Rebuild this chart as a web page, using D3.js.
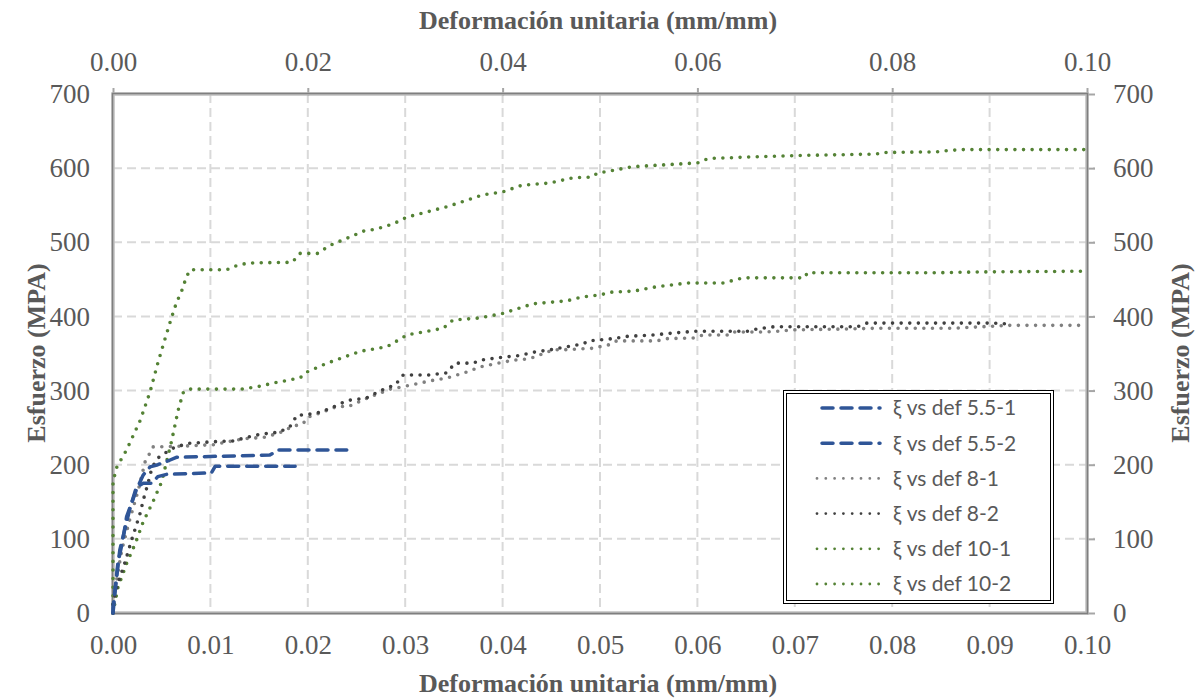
<!DOCTYPE html>
<html>
<head>
<meta charset="utf-8">
<script src="https://cdn.jsdelivr.net/npm/d3@7"></script>
<style>
  body { margin: 0; background: #fff; }
  svg { display: block; }
</style>
</head>
<body>
<svg id="chart" width="1197" height="700"></svg>
<script>
// Esfuerzo vs deformacion - ensayos de traccion

// strain (mm/mm), stress (MPa)
const def55_1 = [[0,0],[0,8],[0.0002,31],[0.0005,67],[0.001,98],[0.0014,130],[0.0019,148],[0.0024,166],[0.0031,186],[0.0038,197],[0.0046,200],[0.0058,206],[0.0065,210],[0.0161,213],[0.017,220],[0.024,220]];
const def55_2 = [[0,0],[0.0003,40],[0.0007,85],[0.0012,112],[0.0017,139],[0.0024,170],[0.0031,175],[0.004,175],[0.0046,184],[0.0055,187],[0.0101,189],[0.0105,198],[0.0187,198]];
const def8_1 = [[0,0],[0.0002,31],[0.0009,85],[0.0017,125],[0.0026,166],[0.0033,204],[0.0038,216],[0.0041,224],[0.0071,225],[0.0103,227],[0.0134,235],[0.0156,237],[0.0173,244],[0.0185,252],[0.0195,255],[0.02,264],[0.0209,268],[0.0231,279],[0.0241,278],[0.0265,292],[0.0285,302],[0.0308,308],[0.0325,313],[0.0343,317],[0.0361,324],[0.0377,332],[0.0411,341],[0.0428,343],[0.0452,355],[0.0462,355],[0.0492,357],[0.051,362],[0.0517,367],[0.0558,367],[0.0569,370],[0.0596,371],[0.0606,375],[0.0633,375],[0.0637,379],[0.0671,379],[0.0702,382],[0.0754,383],[0.0782,384],[0.0862,384],[0.0921,388],[0.1,388]];
const def8_2 = [[0,0],[0,13],[0.0005,40],[0.0012,67],[0.0019,98],[0.0028,135],[0.0031,152],[0.0036,175],[0.004,196],[0.0046,209],[0.0055,217],[0.0064,224],[0.0079,229],[0.0103,231],[0.0123,232],[0.0138,237],[0.0151,241],[0.0171,244],[0.0182,252],[0.0189,267],[0.0197,267],[0.0213,271],[0.0223,276],[0.0238,285],[0.0243,287],[0.026,290],[0.0275,300],[0.029,308],[0.0298,321],[0.0325,321],[0.0343,324],[0.0351,337],[0.037,337],[0.0377,341],[0.04,345],[0.0416,347],[0.0433,352],[0.0449,355],[0.0466,359],[0.0483,363],[0.0488,367],[0.0513,370],[0.0527,373],[0.0554,375],[0.0579,378],[0.0598,380],[0.0651,380],[0.0661,383],[0.0678,386],[0.0764,386],[0.0774,391],[0.0904,391],[0.0918,390]];
const def10_1 = [[0,0],[0,177],[0.0004,197],[0.0014,220],[0.0028,260],[0.0038,298],[0.0046,337],[0.0053,368],[0.006,398],[0.0065,418],[0.0071,436],[0.0075,452],[0.0079,463],[0.0117,463],[0.0123,467],[0.0138,472],[0.0184,473],[0.0192,485],[0.021,485],[0.0223,496],[0.0243,507],[0.0257,515],[0.0271,518],[0.0288,525],[0.0302,534],[0.0343,548],[0.038,564],[0.04,568],[0.042,577],[0.0449,580],[0.0472,587],[0.0492,588],[0.0497,593],[0.0534,602],[0.06,607],[0.0611,613],[0.0654,615],[0.0702,617],[0.0784,619],[0.079,621],[0.0846,622],[0.0852,623],[0.087,625],[0.1,625]];
const def10_2 = [[0,0],[0.0005,34],[0.0014,67],[0.0023,94],[0.0031,123],[0.0041,150],[0.005,177],[0.006,231],[0.0067,274],[0.0072,297],[0.0077,302],[0.0132,302],[0.0148,305],[0.0164,310],[0.0192,317],[0.0199,325],[0.022,337],[0.0254,353],[0.0281,359],[0.0302,375],[0.0339,384],[0.0349,395],[0.0377,398],[0.04,404],[0.0431,417],[0.0466,421],[0.0481,426],[0.05,429],[0.0513,433],[0.0534,434],[0.0558,440],[0.0589,445],[0.0626,445],[0.0647,452],[0.071,452],[0.0713,459],[0.0849,459],[0.089,460],[0.1,461]];

const seriesNames = ["ξ vs def 5.5-1", "ξ vs def 5.5-2", "ξ vs def 8-1", "ξ vs def 8-2", "ξ vs def 10-1", "ξ vs def 10-2"];
const seriesData = [def55_1, def55_2, def8_1, def8_2, def10_1, def10_2];

const xTicksBottom = [0, 0.01, 0.02, 0.03, 0.04, 0.05, 0.06, 0.07, 0.08, 0.09, 0.1];
const xTicksTop = [0, 0.02, 0.04, 0.06, 0.08, 0.1];
const yTicks = [0, 100, 200, 300, 400, 500, 600, 700];

const xTitle = "Deformación unitaria (mm/mm)";
const yTitle = "Esfuerzo (MPA)";

// line styles by series
const styles = [
    { color: "#2f5597", width: 3.5, dash: "11,8" },
    { color: "#2f5597", width: 3.5, dash: "11,8" },
    { color: "#808080", width: 3.6, dash: "0,8.6" },
    { color: "#404040", width: 3.6, dash: "0,8.6" },
    { color: "#548235", width: 3.6, dash: "0,8.6" },
    { color: "#548235", width: 3.6, dash: "0,8.6" }
];

const margin = { left: 113, right: 1087, top: 94, bottom: 613 };
const serif = "'Liberation Serif', 'Times New Roman', serif";
const textGrey = "#595959";
const tickFont = 27;
const titleFont = 26;

let svg = d3.select("#chart");

let x = d3.scaleLinear().domain([0, 0.1]).range([margin.left, margin.right]);
let y = d3.scaleLinear().domain([0, 700]).range([margin.bottom, margin.top]);

// grid
let grid = svg.append("g");
grid.selectAll("line.gx")
    .data(xTicksBottom.slice(1, -1))
    .enter().append("line")
    .attr("x1", d => x(d)).attr("x2", d => x(d))
    .attr("y1", margin.top).attr("y2", margin.bottom)
    .attr("stroke", "#d9d9d9").attr("stroke-width", 2)
    .attr("stroke-dasharray", "9,5");
grid.selectAll("line.gy")
    .data(yTicks.slice(1, -1))
    .enter().append("line")
    .attr("x1", margin.left).attr("x2", margin.right + 8)
    .attr("y1", d => y(d)).attr("y2", d => y(d))
    .attr("stroke", "#d9d9d9").attr("stroke-width", 2)
    .attr("stroke-dasharray", "9,5");

// axes
let fmt = d3.format(".2f");

let bottomAxis = svg.append("g")
    .attr("transform", "translate(0," + margin.bottom + ")")
    .call(d3.axisBottom(x).tickValues(xTicksBottom).tickFormat(fmt).tickSize(0).tickPadding(22));

let topAxis = svg.append("g")
    .attr("transform", "translate(0," + margin.top + ")")
    .call(d3.axisTop(x).tickValues(xTicksTop).tickFormat(fmt).tickSize(8).tickPadding(15));

let leftAxis = svg.append("g")
    .attr("transform", "translate(" + margin.left + ",0)")
    .call(d3.axisLeft(y).tickValues(yTicks).tickSize(0).tickPadding(23));

let rightAxis = svg.append("g")
    .attr("transform", "translate(" + margin.right + ",0)")
    .call(d3.axisRight(y).tickValues(yTicks).tickSize(8).tickPadding(18));

[bottomAxis, topAxis, leftAxis, rightAxis].forEach(function (a) {
    a.select(".domain").remove();
    a.selectAll("text")
        .attr("font-family", serif)
        .attr("font-size", tickFont)
        .attr("fill", textGrey);
    a.selectAll("line").attr("stroke", "#a6a6a6").attr("stroke-width", 2);
});
topAxis.selectAll("line").attr("transform", "translate(0,2)");

// frame
svg.append("rect")
    .attr("x", margin.left).attr("y", margin.top)
    .attr("width", margin.right - margin.left)
    .attr("height", margin.bottom - margin.top)
    .attr("fill", "none")
    .attr("stroke", "#bfbfbf").attr("stroke-width", 3.5);
svg.append("rect")
    .attr("x", margin.left - 0.5).attr("y", margin.top - 0.5)
    .attr("width", margin.right - margin.left + 1)
    .attr("height", margin.bottom - margin.top + 1)
    .attr("fill", "none")
    .attr("stroke", "#7f7f7f").attr("stroke-width", 1.5);

// series
let line = d3.line()
    .x(d => x(d[0]))
    .y(d => y(d[1]));

let drawOrder = [5, 4, 2, 3, 1, 0];
svg.append("g").selectAll("path")
    .data(drawOrder)
    .enter().append("path")
    .attr("d", i => line(seriesData[i]))
    .attr("fill", "none")
    .attr("stroke", i => styles[i].color)
    .attr("stroke-width", i => styles[i].width)
    .attr("stroke-dasharray", i => styles[i].dash)
    .attr("stroke-linecap", "round")
    .attr("stroke-linejoin", "round");

// axis titles
let addTitle = function (transform, label) {
    svg.append("text")
        .attr("transform", transform)
        .attr("text-anchor", "middle")
        .attr("font-family", serif).attr("font-weight", "bold")
        .attr("font-size", titleFont).attr("fill", textGrey)
        .text(label);
};
addTitle("translate(598,29)", xTitle);
addTitle("translate(598,692)", xTitle);
addTitle("translate(45,353) rotate(-90)", yTitle);
addTitle("translate(1189,353) rotate(-90)", yTitle);

// legend
let legend = svg.append("g");
legend.append("rect")
    .attr("x", 783.5).attr("y", 390.5).attr("width", 270).attr("height", 213)
    .attr("fill", "#fff").attr("stroke", "#000").attr("stroke-width", 1);
legend.append("rect")
    .attr("x", 786.5).attr("y", 393.5).attr("width", 264).attr("height", 207)
    .attr("fill", "none").attr("stroke", "#000").attr("stroke-width", 1);

let rowY = d3.scaleLinear().domain([0, 5]).range([408, 584]);
let rows = legend.selectAll("g.row")
    .data(seriesNames)
    .enter().append("g")
    .attr("transform", (d, i) => "translate(0," + rowY(i) + ")");
rows.append("line")
    .attr("x1", (d, i) => i < 2 ? 822 : 817)
    .attr("x2", (d, i) => i < 2 ? 880 : 884)
    .attr("stroke", (d, i) => styles[i].color)
    .attr("stroke-width", (d, i) => i < 2 ? 3.5 : 2.8)
    .attr("stroke-dasharray", (d, i) => i < 2 ? "11,8" : "0,8.8")
    .attr("stroke-linecap", "round");
rows.append("text")
    .attr("x", 893).attr("y", 0).attr("dy", "0.35em")
    .attr("font-family", "Lato, 'Open Sans', sans-serif")
    .attr("font-size", 21).attr("fill", textGrey)
    .text(d => d);
</script>
</body>
</html>
